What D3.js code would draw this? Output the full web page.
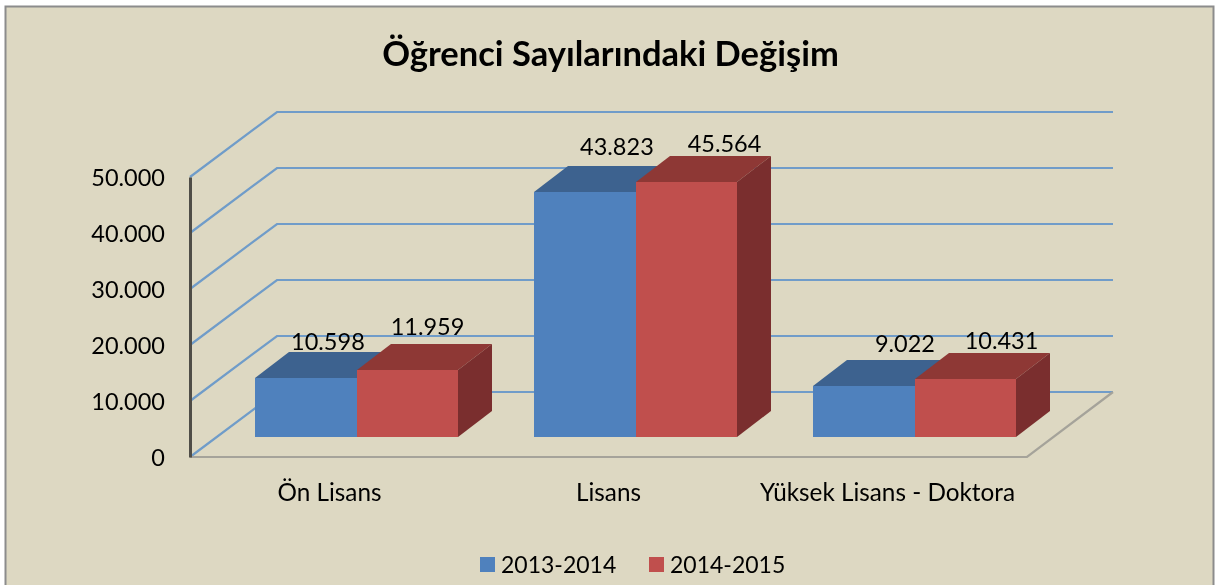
<!DOCTYPE html>
<html>
<head>
<meta charset="utf-8">
<script src="https://cdn.jsdelivr.net/npm/d3@7"></script>
<style>
    html, body { margin: 0; padding: 0; background: #fff; overflow: hidden; }
    text { font-family: Lato, "Open Sans", sans-serif; fill: #000; }
</style>
</head>
<body>
<div id="chart"></div>
<script>
// Chart values.
const categories = ["Ön Lisans", "Lisans", "Yüksek Lisans - Doktora"];
const seriesNames = ["2013-2014", "2014-2015"];
const values2013 = [10598, 43823, 9022];
const values2014 = [11959, 45564, 10431];
const yTicks = [0, 10000, 20000, 30000, 40000, 50000];

const width = 1215, height = 585;
const plot = {left: 190, right: 1027, top: 177, bottom: 457};

// Depth of the 3d box, and of each bar inside it.
const depth = {x: 87, y: 65};
const barDepth = {x: 34, y: 26};
const barInset = {x: 27.2, y: 20};

const colors = [
    {front: "#4f81bd", top: "#3c628f", side: "#35577f"},
    {front: "#c0504d", top: "#8e3836", side: "#7a2f2d"}
];
// Labels are placed by hand in the original, so each one has its own nudge.
const labelNudge = [
    [{x: 22, y: -28}, {x: 20, y: -35}],
    [{x: 32, y: -37}, {x: 38, y: -30}],
    [{x: 41, y: -34}, {x: 36, y: -30}]
];

const fmt = d3.format(",.0f");
const trFormat = v => fmt(v).replace(/,/g, ".");

const svg = d3.select("#chart").append("svg")
    .attr("width", width).attr("height", height)
    .style("display", "block");

// The reference is a slightly soft screenshot.
svg.append("filter").attr("id", "soft")
    .attr("x", 0).attr("y", 0).attr("width", 1).attr("height", 1)
    .append("feGaussianBlur").attr("stdDeviation", 0.45);

const root = svg.append("g").attr("filter", "url(#soft)");

// Panel
root.append("rect")
    .attr("x", 0).attr("y", 0)
    .attr("width", width).attr("height", height)
    .attr("fill", "#fff");
root.append("rect")
    .attr("x", 5.5).attr("y", 6.5)
    .attr("width", 1208).attr("height", 600)
    .attr("fill", "#ddd8c2")
    .attr("stroke", "#8c8c8c").attr("stroke-width", 2);

// Title
root.append("text")
    .attr("x", 610.5).attr("y", 66)
    .attr("text-anchor", "middle")
    .attr("font-size", 34.5).attr("font-weight", 700)
    .text("Öğrenci Sayılarındaki Değişim");

// Scales
const y = d3.scaleLinear().domain([0, 50000]).range([plot.bottom, plot.top]);
const x0 = d3.scaleBand().domain(categories)
    .range([plot.left, plot.right])
    .paddingInner(0.272).paddingOuter(0.136);
const x1 = d3.scaleBand().domain(seriesNames).range([0, x0.bandwidth()]);

// Gridlines on the side and back walls.
const line = d3.line();
root.append("g").selectAll("path")
    .data(yTicks)
    .join("path")
    .attr("d", t => line([
        [plot.left, y(t)],
        [plot.left + depth.x, y(t) - depth.y],
        [plot.right + depth.x - 1, y(t) - depth.y]
    ]))
    .attr("fill", "none")
    .attr("stroke", "#6f9cc9").attr("stroke-width", 2.2);

// Floor edge
root.append("path")
    .attr("d", line([
        [plot.left, plot.bottom],
        [plot.right, plot.bottom],
        [plot.right + depth.x - 1, plot.bottom - depth.y]
    ]))
    .attr("fill", "none")
    .attr("stroke", "#a5a39a").attr("stroke-width", 2.2);

// Y axis
const yAxis = root.append("g")
    .attr("transform", "translate(" + plot.left + ",0)")
    .call(d3.axisLeft(y).tickValues(yTicks).tickFormat(trFormat).tickSize(0).tickPadding(25));
yAxis.select(".domain").attr("stroke", "#4f4d47").attr("stroke-width", 3);
yAxis.selectAll("text")
    .attr("font-size", 23.5).attr("font-family", null)
    .attr("dy", "0.36em");

// X axis
const xAxis = root.append("g")
    .attr("transform", "translate(0," + plot.bottom + ")")
    .call(d3.axisBottom(x0).tickSize(0).tickPadding(27));
xAxis.select(".domain").remove();
xAxis.selectAll("text").attr("font-size", 24.3).attr("font-family", null);

// Bars
const barData = [];
seriesNames.forEach(function(s, si) {
    const vals = si === 0 ? values2013 : values2014;
    categories.forEach(function(c, ci) {
        barData.push({category: c, series: s, value: vals[ci], si: si, ci: ci});
    });
});

const baseY = plot.bottom - barInset.y;

const bars = root.append("g").selectAll("g")
    .data(barData)
    .join("g");

bars.each(function(d) {
    const g = d3.select(this);
    // Snap to whole pixels so no seam shows between the faces.
    const xl = Math.round(x0(d.category) + x1(d.series) + barInset.x);
    const xr = Math.round(x0(d.category) + x1(d.series) + barInset.x + x1.bandwidth());
    const top = Math.round(baseY - (y(0) - y(d.value)));
    const c = colors[d.si];

    g.append("path")
        .attr("d", line([[xl, top], [xl + barDepth.x, top - barDepth.y], [xr + barDepth.x, top - barDepth.y], [xr, top]]) + "Z")
        .attr("fill", c.top);
    g.append("path")
        .attr("d", line([[xr, top], [xr + barDepth.x, top - barDepth.y], [xr + barDepth.x, baseY - barDepth.y], [xr, baseY]]) + "Z")
        .attr("fill", c.side);
    g.append("rect")
        .attr("x", xl).attr("y", top)
        .attr("width", xr - xl).attr("height", baseY - top)
        .attr("fill", c.front);
});

// Data labels
root.append("g").selectAll("text")
    .data(barData)
    .join("text")
    .attr("x", d => x0(d.category) + x1(d.series) + barInset.x + x1.bandwidth() / 2 + labelNudge[d.ci][d.si].x)
    .attr("y", d => baseY - (y(0) - y(d.value)) + labelNudge[d.ci][d.si].y)
    .attr("text-anchor", "middle")
    .attr("font-size", 23.5)
    .text(d => trFormat(d.value));

// Legend
const legendX = [480, 649];
const legend = root.append("g").selectAll("g")
    .data(seriesNames)
    .join("g")
    .attr("transform", (d, i) => "translate(" + legendX[i] + ",557)");
legend.append("rect")
    .attr("width", 15).attr("height", 15)
    .attr("fill", (d, i) => colors[i].front);
legend.append("text")
    .attr("x", 21).attr("y", 15.5)
    .attr("font-size", 23)
    .text(d => d);
</script>
</body>
</html>
